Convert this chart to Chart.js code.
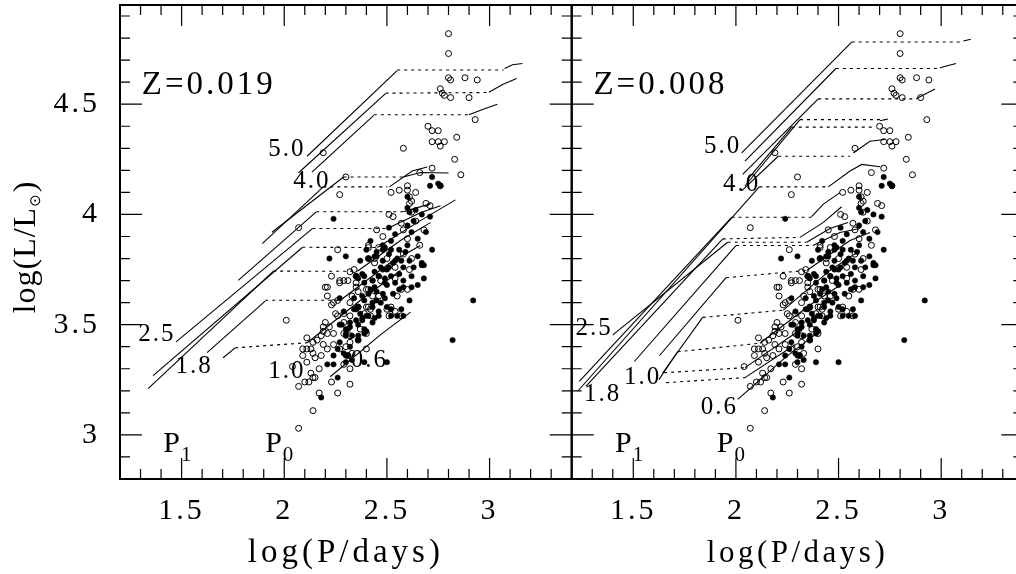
<!DOCTYPE html>
<html>
<head>
<meta charset="utf-8">
<script src="https://cdn.jsdelivr.net/npm/chart.js@4.4.1/dist/chart.umd.min.js"></script>
<style>
  html, body { margin: 0; padding: 0; background: #fff; overflow: hidden; width: 1016px; height: 574px; }
  canvas { position: absolute; top: 0; }
  #cL { left: 0; }
  #cR { left: 560px; }
</style>
</head>
<body>
<canvas id="cL" width="600" height="574"></canvas>
<canvas id="cR" width="470" height="574"></canvas>
<script>
// Axis ranges and labelled ticks (log P in days, log L in solar units)
const xRange = [1.2, 3.4];
const yRange = [2.8, 4.95];
const xTickLabels = [1.5, 2, 2.5, 3];
const yTickLabels = [3, 3.5, 4, 4.5];

// Observed variables: open circles
const obsOpen = [
  [2.80,4.82],[2.80,4.73],[2.80,4.62],[2.81,4.61],[2.88,4.62],[2.94,4.61],
  [2.76,4.57],[2.77,4.55],[2.78,4.54],[2.81,4.53],[2.90,4.53],[2.93,4.43],
  [2.70,4.40],[2.72,4.38],[2.75,4.38],[2.84,4.35],[2.72,4.33],[2.75,4.33],[2.78,4.33],[2.76,4.31],
  [2.58,4.30],[2.83,4.25],[2.72,4.21],[2.86,4.18],[2.66,4.19],
  [2.52,4.10],[2.56,4.11],[2.60,4.13],[2.60,4.11],[2.64,4.10],[2.62,4.06],
  [2.53,3.99],[2.57,3.96],[2.69,4.05],[2.71,4.04],
  [2.19,4.28],[2.30,4.17],[2.27,4.09],[2.07,3.94],
  [2.26,3.84],[2.41,3.86],[2.41,3.85],[2.46,3.85],
  [2.01,3.52],[2.11,3.44],[2.21,3.67],[2.21,3.63],[2.26,3.61],[2.23,3.59],[2.25,3.55],[2.26,3.54],[2.27,3.69],
  [2.29,3.51],[2.32,3.54],[2.40,3.58],[2.42,3.57],[2.50,3.57],[2.54,3.56],[2.57,3.54],[2.55,3.63],
  [2.20,3.51],[2.22,3.49],[2.24,3.46],[2.19,3.47],[2.18,3.45],[2.16,3.43],[2.14,3.42],[2.13,3.39],
  [2.11,3.39],[2.09,3.39],[2.14,3.37],[2.15,3.35],[2.18,3.36],[2.21,3.39],[2.24,3.41],[2.27,3.39],
  [2.30,3.40],[2.32,3.42],[2.36,3.43],[2.33,3.37],[2.31,3.36],[2.40,3.39],
  [2.17,3.30],[2.11,3.33],[2.07,3.22],[2.10,3.24],[2.12,3.24],[2.14,3.26],[2.13,3.28],[2.17,3.19],
  [2.26,3.19],[2.32,3.23],[2.23,3.24],[2.14,3.11],[2.07,3.03],[2.15,3.26],
  [2.51,4.00],[2.68,3.93],[2.23,3.72],[2.32,3.74],[2.34,3.75],[2.29,3.70],[2.27,3.70],[2.20,3.67],
  [2.24,3.60],[2.36,3.65],[2.40,3.66],[2.43,3.63],[2.54,3.76],[2.54,3.71],[2.57,3.66],[2.60,3.66],
  [2.51,3.54],[2.41,3.58],[2.32,3.60],[2.36,3.58],[2.39,3.55],[2.42,3.54],[2.19,3.49],[2.21,3.46],
  [2.29,3.46],[2.32,3.45],[2.40,3.46],[2.37,3.48],
  [2.62,4.01],[2.64,3.97],[2.58,3.93],[2.48,3.90],[2.45,3.93],[2.60,3.89],[2.50,3.80],[2.44,3.78],
  [2.62,3.80],[2.66,3.86],[2.47,3.70],[2.35,3.69],
  [2.76,4.13],[2.61,4.08],[2.61,4.05],[2.41,3.80],[2.44,3.80],[2.58,3.82],[2.61,3.75],[2.35,3.72],
  [2.31,3.70],[2.29,3.55],[2.19,3.41],[2.09,3.36],[2.04,3.31],[2.29,3.32],[2.32,3.30],[2.41,3.66],
  [2.35,3.67],[2.46,3.63],[2.52,3.58],[2.33,3.63]
];

// Observed variables: filled circles
const obsFilled = [
  [2.72,4.17],[2.71,4.13],[2.75,4.14],[2.76,4.13],[2.60,4.08],[2.60,4.03],[2.61,4.01],[2.64,4.02],
  [2.67,4.00],[2.71,3.99],[2.51,3.94],[2.24,3.98],
  [2.72,3.84],[2.67,3.78],[2.63,3.76],[2.30,3.81],[2.22,3.80],[2.37,3.79],[2.45,3.83],[2.48,3.86],
  [2.51,3.82],[2.56,3.84],[2.60,3.86],[2.65,3.89],[2.62,3.92],[2.60,3.95],
  [2.49,3.71],[2.45,3.65],[2.37,3.55],[2.35,3.52],[2.32,3.49],[2.30,3.46],[2.44,3.74],[2.39,3.72],
  [2.36,3.71],[2.34,3.62],[2.29,3.56],[2.27,3.62],[2.28,3.50],[2.49,3.62],[2.52,3.57],[2.57,3.57],
  [2.61,3.61],[2.65,3.68],[2.68,3.71],[2.47,3.76],[2.54,3.69],[2.56,3.73],[2.58,3.76],[2.57,3.79],
  [2.65,3.81],[2.45,3.81],[2.42,3.88],[2.40,3.84],[2.52,3.88],[2.54,3.91],
  [2.27,3.50],[2.30,3.48],[2.32,3.51],[2.36,3.50],[2.38,3.53],[2.41,3.54],[2.44,3.53],[2.46,3.56],
  [2.30,3.45],[2.27,3.42],[2.26,3.39],[2.24,3.36],[2.21,3.32],[2.24,3.32],[2.39,3.46],[2.36,3.43],
  [2.32,3.40],[2.30,3.36],[2.40,3.47],[2.26,3.26],[2.18,3.17],[2.50,3.33],
  [2.92,3.61],[2.82,3.43],
  [2.62,3.72],[2.62,3.67],[2.68,3.77],[2.52,3.54],[2.58,3.54],
  [2.43,3.70],[2.46,3.72],[2.50,3.75],[2.53,3.78],[2.55,3.80],[2.42,3.66],[2.38,3.63],[2.47,3.60],
  [2.43,3.60],[2.35,3.57],[2.50,3.68],[2.53,3.64],[2.58,3.70],[2.56,3.66],
  [2.63,3.97],[2.69,3.92],[2.41,3.80],[2.44,3.81],[2.48,3.84],[2.49,3.85],[2.52,3.84],[2.54,3.79],
  [2.59,3.83],[2.61,3.79],[2.67,3.77],[2.58,3.67],[2.50,3.58],[2.55,3.54],[2.48,3.64],[2.45,3.61],
  [2.43,3.58],[2.40,3.54],[2.38,3.52],[2.31,3.48],[2.33,3.45],[2.29,3.37],[2.31,3.36],[2.33,3.34],
  [2.30,3.33],[2.39,3.33],
  [2.35,3.72],[2.38,3.73],[2.39,3.69],[2.43,3.70],[2.46,3.72],[2.48,3.75],[2.44,3.67],[2.41,3.64],
  [2.39,3.61],[2.36,3.58],[2.34,3.57],[2.46,3.54],[2.43,3.51],[2.39,3.48],[2.36,3.45],[2.48,3.79],
  [2.51,3.76],[2.52,3.72],[2.49,3.69]
];

// Z = 0.019 models: solid branches (first overtone on the left, fundamental on the right)
const solidZ019 = [
  [[1.337,3.210],[1.946,3.742]],
  [[1.361,3.269],[2.088,3.850]],
  [[1.473,3.422],[2.137,3.936]],
  [[1.776,3.701],[2.156,4.012]],
  [[1.624,3.373],[1.907,3.607]],
  [[1.702,3.350],[1.761,3.395]],
  [[1.940,3.919],[2.289,4.170]],
  [[1.893,3.868],[2.190,4.125]],
  [[2.111,4.264],[2.550,4.652]],
  [[2.070,4.189],[2.493,4.548]],
  [[2.135,4.192],[2.436,4.449]],
  [[2.899,4.452],[2.966,4.476],[3.038,4.500]],
  [[2.997,4.554],[3.063,4.589],[3.132,4.617]],
  [[3.073,4.662],[3.112,4.679],[3.160,4.685]],
  [[2.512,4.125],[2.623,4.197],[2.696,4.215]],
  [[2.580,4.170],[2.663,4.190],[2.800,4.188]],
  [[2.580,4.012],[2.712,4.048]],
  [[2.502,3.936],[2.663,4.008],[2.761,4.039]],
  [[2.454,3.850],[2.663,3.972],[2.834,4.066]],
  [[2.356,3.742],[2.566,3.882],[2.712,3.963]],
  [[2.273,3.611],[2.517,3.782],[2.663,3.859]],
  [[2.112,3.418],[2.371,3.611],[2.566,3.746]],
  [[2.224,3.264],[2.468,3.454],[2.615,3.557]]
];
// Z = 0.019 models: mode-switch connections
const dottedZ019 = [
  [[2.550,4.655],[3.068,4.655]],
  [[2.493,4.550],[2.995,4.553]],
  [[2.436,4.452],[2.898,4.452]],
  [[2.289,4.170],[2.580,4.170]],
  [[2.190,4.125],[2.502,4.125]],
  [[2.156,4.012],[2.580,4.012]],
  [[2.137,3.936],[2.502,3.936]],
  [[2.088,3.851],[2.454,3.850]],
  [[1.946,3.743],[2.356,3.742]],
  [[1.907,3.611],[2.273,3.611]],
  [[1.761,3.395],[2.112,3.418]]
];

// Z = 0.008 models: solid branches
const solidZ008 = [
  [[1.229,3.198],[2.114,4.125]],
  [[1.237,3.243],[1.979,3.987]],
  [[1.270,3.221],[1.936,3.889]],
  [[1.400,3.454],[1.960,3.874]],
  [[1.505,3.333],[2.000,3.859]],
  [[1.627,3.359],[1.952,3.713]],
  [[1.643,3.281],[1.838,3.533]],
  [[1.625,3.251],[1.716,3.377]],
  [[2.028,4.107],[2.206,4.264]],
  [[2.044,4.129],[2.312,4.430]],
  [[2.059,4.161],[2.272,4.396]],
  [[2.028,4.279],[2.564,4.782]],
  [[2.044,4.242],[2.487,4.662]],
  [[2.033,4.182],[2.401,4.524]],
  [[3.108,4.787],[3.144,4.795]],
  [[2.994,4.665],[3.072,4.685]],
  [[2.880,4.526],[2.970,4.569]],
  [[2.702,4.425],[2.741,4.433]],
  [[2.572,4.279],[2.653,4.332],[2.726,4.340]],
  [[2.450,4.125],[2.556,4.197],[2.613,4.227],[2.702,4.216]],
  [[2.369,3.990],[2.426,4.047],[2.507,4.099]],
  [[2.312,3.896],[2.426,3.964],[2.515,4.035]],
  [[2.345,3.874],[2.458,3.936],[2.546,3.963]],
  [[2.375,3.859],[2.507,3.918],[2.604,3.936]],
  [[2.345,3.746],[2.556,3.882],[2.653,3.918]],
  [[2.231,3.566],[2.458,3.746],[2.604,3.836]],
  [[2.117,3.416],[2.361,3.589],[2.507,3.679]],
  [[2.044,3.305],[2.312,3.476]],
  [[2.044,3.260],[2.288,3.409]],
  [[2.009,3.161],[2.247,3.356],[2.385,3.454]]
];
// Z = 0.008 models: mode-switch connections
const dottedZ008 = [
  [[2.564,4.782],[3.106,4.782]],
  [[2.487,4.662],[2.994,4.662]],
  [[2.401,4.524],[2.882,4.524]],
  [[2.312,4.430],[2.726,4.430]],
  [[2.272,4.396],[2.677,4.396]],
  [[2.206,4.264],[2.556,4.264]],
  [[2.114,4.125],[2.449,4.125]],
  [[1.979,3.987],[2.369,3.987]],
  [[1.936,3.889],[2.312,3.896]],
  [[1.960,3.874],[2.344,3.874]],
  [[2.000,3.859],[2.376,3.859]],
  [[1.952,3.713],[2.344,3.746]],
  [[1.838,3.533],[2.230,3.566]],
  [[1.716,3.377],[2.118,3.416]],
  [[1.650,3.282],[2.044,3.305]],
  [[1.660,3.237],[2.044,3.260]]
];

// Mass labels (solar masses) for each metallicity
const massLabelsZ019 = [
  { text: '5.0', x: 2.013, y: 4.295 },
  { text: '4.0', x: 2.135, y: 4.148 },
  { text: '2.5', x: 1.379, y: 3.454 },
  { text: '1.8', x: 1.561, y: 3.311 },
  { text: '1.0', x: 2.013, y: 3.288 },
  { text: '0.6', x: 2.415, y: 3.337 }
];
const massLabelsZ008 = [
  { text: '5.0', x: 1.935, y: 4.309 },
  { text: '4.0', x: 2.028, y: 4.137 },
  { text: '2.5', x: 1.309, y: 3.481 },
  { text: '1.8', x: 1.351, y: 3.183 },
  { text: '1.0', x: 1.546, y: 3.259 },
  { text: '0.6', x: 1.919, y: 3.123 }
];
const modeLabels = [
  { main: 'P', sub: '1', x: 1.411, y: 2.922 },
  { main: 'P', sub: '0', x: 1.907, y: 2.922 }
];

const SERIF = '"Liberation Serif", "DejaVu Serif", serif';

function toXY(arr) { return arr.map(p => ({ x: p[0], y: p[1] })); }

// Frame, inward ticks and annotations drawn through the chart's scales
const panelPlugin = {
  id: 'panel',
  beforeDraw(chart) { chart.ctx.letterSpacing = '3px'; },
  afterDraw(chart, args, o) {
    const { ctx, chartArea: a, scales: { x, y } } = chart;
    ctx.save();
    ctx.strokeStyle = '#000';
    ctx.lineWidth = 1.2;
    ctx.beginPath();
    for (let i = 13; i < 34; i++) {
      const px = x.getPixelForValue(i / 10);
      const L = (i % 5 === 0) ? 21 : 10;
      ctx.moveTo(px, a.bottom); ctx.lineTo(px, a.bottom - L);
      ctx.moveTo(px, a.top); ctx.lineTo(px, a.top + L);
    }
    for (let i = 29; i < 50; i++) {
      const py = y.getPixelForValue(i / 10);
      const L = (i % 5 === 0) ? 22 : 10;
      ctx.moveTo(a.left, py); ctx.lineTo(a.left + L, py);
      ctx.moveTo(a.right, py); ctx.lineTo(a.right - L, py);
    }
    ctx.stroke();
    ctx.lineWidth = 2;
    ctx.strokeRect(a.left, a.top, a.right - a.left, a.bottom - a.top);

    ctx.fillStyle = '#000';
    ctx.textBaseline = 'alphabetic';
    // metallicity
    ctx.letterSpacing = '3px';
    ctx.font = '33px ' + SERIF;
    ctx.textAlign = 'left';
    ctx.fillText(o.zText, x.getPixelForValue(1.306), y.getPixelForValue(4.545));
    // mass labels
    ctx.font = '25px ' + SERIF;
    ctx.letterSpacing = '2px';
    ctx.textAlign = 'center';
    ctx.textBaseline = 'middle';
    o.masses.forEach(m => ctx.fillText(m.text, x.getPixelForValue(m.x), y.getPixelForValue(m.y)));
    // pulsation mode labels
    ctx.textAlign = 'left';
    ctx.textBaseline = 'alphabetic';
    modeLabels.forEach(m => {
      const px = x.getPixelForValue(m.x), py = y.getPixelForValue(m.y);
      ctx.letterSpacing = '0px';
      ctx.font = '30px ' + SERIF;
      ctx.fillText(m.main, px, py);
      const w = ctx.measureText(m.main).width;
      ctx.font = '21px ' + SERIF;
      ctx.fillText(m.sub, px + w + 1, py + 9);
    });
    // x-axis title
    ctx.letterSpacing = o.titleSpacing;
    ctx.font = o.titleSize + 'px ' + SERIF;
    ctx.textAlign = 'center';
    ctx.fillText('log(P/days)', (a.left + a.right) / 2, 562);
    // y-axis title with solar subscript
    if (o.yTitle) {
      ctx.save();
      ctx.translate(35, 247);
      ctx.rotate(-Math.PI / 2);
      ctx.letterSpacing = '1px';
      ctx.font = '32px ' + SERIF;
      const p1 = 'log(L/L', p3 = ')';
      const w1 = ctx.measureText(p1).width, w3 = ctx.measureText(p3).width;
      ctx.font = '15px "DejaVu Sans", sans-serif';
      const w2 = ctx.measureText('\u2299').width + 1;
      let cx = -(w1 + w2 + w3) / 2;
      ctx.textAlign = 'left';
      ctx.font = '32px ' + SERIF;
      ctx.fillText(p1, cx, 0); cx += w1;
      ctx.font = '15px "DejaVu Sans", sans-serif';
      ctx.fillText('\u2299', cx, 5); cx += w2;
      ctx.font = '32px ' + SERIF;
      ctx.fillText(p3, cx, 0);
      ctx.restore();
    }
    ctx.restore();
  }
};

function buildDatasets(solid, dotted) {
  const ds = [];
  solid.forEach(line => ds.push({
    data: toXY(line), showLine: true, borderColor: '#000', borderWidth: 1.1,
    pointRadius: 0, fill: false, tension: 0
  }));
  dotted.forEach(line => ds.push({
    data: toXY(line), showLine: true, borderColor: '#000', borderWidth: 1.1,
    borderDash: [3, 4], pointRadius: 0, fill: false, tension: 0
  }));
  ds.push({
    data: toXY(obsOpen), showLine: false, pointRadius: 3, pointStyle: 'circle',
    borderColor: '#000', backgroundColor: 'rgba(0,0,0,0)', borderWidth: 1
  });
  ds.push({
    data: toXY(obsFilled), showLine: false, pointRadius: 2.7, pointStyle: 'circle',
    borderColor: '#000', backgroundColor: '#000', borderWidth: 0.5
  });
  return ds;
}

function makePanel(id, cfg) {
  return new Chart(document.getElementById(id), {
    type: 'scatter',
    data: { datasets: buildDatasets(cfg.solid, cfg.dotted) },
    options: {
      responsive: false, animation: false, events: [],
      layout: { padding: { left: cfg.padLeft, right: cfg.padRight, top: 3.3, bottom: 0 } },
      plugins: {
        legend: { display: false }, tooltip: { enabled: false },
        panel: { zText: cfg.zText, masses: cfg.masses, yTitle: cfg.yTitle,
                 titleSize: cfg.titleSize, titleSpacing: cfg.titleSpacing }
      },
      scales: {
        x: {
          type: 'linear', min: xRange[0], max: xRange[1], position: 'bottom',
          afterBuildTicks: s => { s.ticks = xTickLabels.map(v => ({ value: v })); },
          afterFit: s => { s.height = 95; s.paddingLeft = 0; s.paddingRight = 0; },
          grid: { display: false, drawTicks: false }, border: { display: false },
          ticks: { color: '#000', padding: 14, maxRotation: 0, autoSkip: false,
                   font: { family: SERIF, size: 30 }, callback: v => String(v) }
        },
        y: {
          type: 'linear', min: yRange[0], max: yRange[1], position: 'left',
          display: cfg.yTitle,
          afterBuildTicks: s => { s.ticks = yTickLabels.map(v => ({ value: v })); },
          afterFit: s => { s.width = cfg.yWidth; s.paddingTop = 0; s.paddingBottom = 0; },
          grid: { display: false, drawTicks: false }, border: { display: false },
          ticks: { color: '#000', padding: 20, autoSkip: false,
                   font: { family: SERIF, size: 30 }, callback: v => String(v) }
        }
      }
    },
    plugins: [panelPlugin]
  });
}

makePanel('cL', {
  solid: solidZ019, dotted: dottedZ019, zText: 'Z=0.019', masses: massLabelsZ019,
  yTitle: true, yWidth: 120, padLeft: 0, padRight: 28.3, titleSize: 33, titleSpacing: '4px'
});
makePanel('cR', {
  solid: solidZ008, dotted: dottedZ008, zText: 'Z=0.008', masses: massLabelsZ008,
  yTitle: false, yWidth: 0, padLeft: 11.7, padRight: 6.7, titleSize: 31, titleSpacing: '3.5px'
});
</script>
</body>
</html>
